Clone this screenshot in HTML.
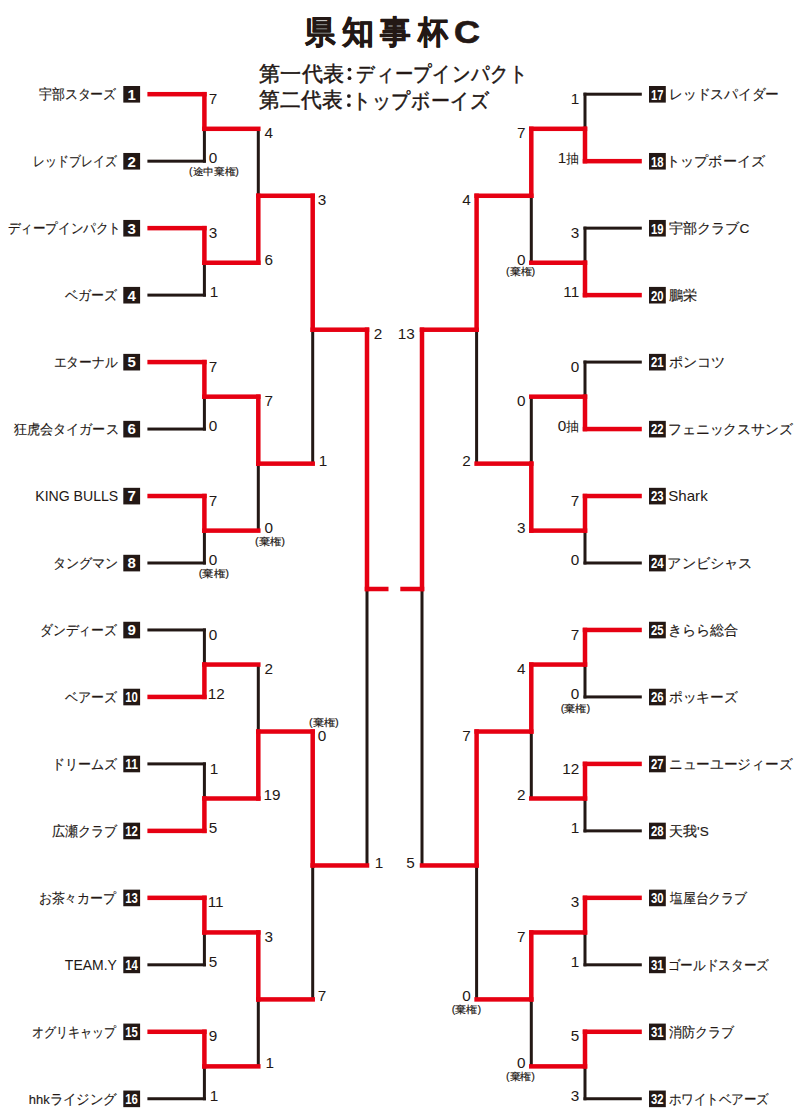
<!DOCTYPE html>
<html><head><meta charset="utf-8"><title>県知事杯C</title>
<style>
html,body{margin:0;padding:0;background:#fff;}
body{width:800px;height:1117px;overflow:hidden;position:relative;font-family:"Liberation Sans", sans-serif;}
svg{position:absolute;left:0;top:0;display:block;}
text{font-family:"Liberation Sans", sans-serif;fill:#231815;}
.nm{font-size:13.5px;stroke:#231815;stroke-width:0.15px;}
.nml{font-size:14.5px;}
.bn{font-size:15px;font-weight:bold;fill:#fff;}
.bn2{font-size:14.5px;font-weight:bold;fill:#fff;}
.sc{font-size:15.3px;}
.ch,.chs{font-size:13px;}
.kk{font-size:10px;stroke:#231815;stroke-width:0.15px;}
.tt{font-size:32px;font-weight:bold;stroke:#231815;stroke-width:0.7px;stroke-linejoin:round;}
.st{font-size:21px;stroke:#231815;stroke-width:0.45px;}
</style></head><body>
<svg width="800" height="1117" viewBox="0 0 800 1117">
<rect x="147.40" y="159.67" width="58.50" height="3.00" fill="#231815"/>
<rect x="147.40" y="293.61" width="58.50" height="3.00" fill="#231815"/>
<rect x="147.40" y="427.55" width="58.50" height="3.00" fill="#231815"/>
<rect x="147.40" y="561.49" width="58.50" height="3.00" fill="#231815"/>
<rect x="147.40" y="628.46" width="58.50" height="3.00" fill="#231815"/>
<rect x="147.40" y="762.40" width="58.50" height="3.00" fill="#231815"/>
<rect x="147.40" y="963.31" width="58.50" height="3.00" fill="#231815"/>
<rect x="147.40" y="1097.25" width="58.50" height="3.00" fill="#231815"/>
<rect x="202.90" y="127.30" width="3.00" height="35.37" fill="#231815"/>
<rect x="202.90" y="261.24" width="3.00" height="35.37" fill="#231815"/>
<rect x="202.90" y="395.18" width="3.00" height="35.37" fill="#231815"/>
<rect x="202.90" y="529.12" width="3.00" height="35.37" fill="#231815"/>
<rect x="202.90" y="628.46" width="3.00" height="37.60" fill="#231815"/>
<rect x="202.90" y="762.40" width="3.00" height="37.60" fill="#231815"/>
<rect x="202.90" y="930.94" width="3.00" height="35.37" fill="#231815"/>
<rect x="202.90" y="1064.88" width="3.00" height="35.37" fill="#231815"/>
<rect x="256.80" y="127.30" width="3.00" height="69.97" fill="#231815"/>
<rect x="256.80" y="462.15" width="3.00" height="69.97" fill="#231815"/>
<rect x="256.80" y="663.06" width="3.00" height="69.97" fill="#231815"/>
<rect x="256.80" y="997.91" width="3.00" height="69.97" fill="#231815"/>
<rect x="311.20" y="328.21" width="3.00" height="136.94" fill="#231815"/>
<rect x="311.20" y="863.97" width="3.00" height="136.94" fill="#231815"/>
<rect x="365.50" y="587.50" width="3.00" height="279.47" fill="#231815"/>
<rect x="583.50" y="92.70" width="58.30" height="3.00" fill="#231815"/>
<rect x="583.50" y="226.64" width="58.30" height="3.00" fill="#231815"/>
<rect x="583.50" y="360.58" width="58.30" height="3.00" fill="#231815"/>
<rect x="583.50" y="561.49" width="58.30" height="3.00" fill="#231815"/>
<rect x="583.50" y="695.43" width="58.30" height="3.00" fill="#231815"/>
<rect x="583.50" y="829.37" width="58.30" height="3.00" fill="#231815"/>
<rect x="583.50" y="963.31" width="58.30" height="3.00" fill="#231815"/>
<rect x="583.50" y="1097.25" width="58.30" height="3.00" fill="#231815"/>
<rect x="583.50" y="92.70" width="3.00" height="37.60" fill="#231815"/>
<rect x="583.50" y="226.64" width="3.00" height="37.60" fill="#231815"/>
<rect x="583.50" y="360.58" width="3.00" height="37.60" fill="#231815"/>
<rect x="583.50" y="529.12" width="3.00" height="35.37" fill="#231815"/>
<rect x="583.50" y="663.06" width="3.00" height="35.37" fill="#231815"/>
<rect x="583.50" y="797.00" width="3.00" height="35.37" fill="#231815"/>
<rect x="583.50" y="930.94" width="3.00" height="35.37" fill="#231815"/>
<rect x="583.50" y="1064.88" width="3.00" height="35.37" fill="#231815"/>
<rect x="529.80" y="194.27" width="3.00" height="69.97" fill="#231815"/>
<rect x="529.80" y="395.18" width="3.00" height="69.97" fill="#231815"/>
<rect x="529.80" y="730.03" width="3.00" height="69.97" fill="#231815"/>
<rect x="529.80" y="997.91" width="3.00" height="69.97" fill="#231815"/>
<rect x="475.10" y="328.21" width="3.00" height="136.94" fill="#231815"/>
<rect x="475.10" y="863.97" width="3.00" height="136.94" fill="#231815"/>
<rect x="420.50" y="587.50" width="3.00" height="279.47" fill="#231815"/>
<rect x="147.40" y="91.95" width="59.25" height="4.50" fill="#e60012"/>
<rect x="147.40" y="225.89" width="59.25" height="4.50" fill="#e60012"/>
<rect x="147.40" y="359.83" width="59.25" height="4.50" fill="#e60012"/>
<rect x="147.40" y="493.77" width="59.25" height="4.50" fill="#e60012"/>
<rect x="147.40" y="694.68" width="59.25" height="4.50" fill="#e60012"/>
<rect x="147.40" y="828.62" width="59.25" height="4.50" fill="#e60012"/>
<rect x="147.40" y="895.59" width="59.25" height="4.50" fill="#e60012"/>
<rect x="147.40" y="1029.53" width="59.25" height="4.50" fill="#e60012"/>
<rect x="202.15" y="91.95" width="4.50" height="39.10" fill="#e60012"/>
<rect x="202.15" y="225.89" width="4.50" height="39.10" fill="#e60012"/>
<rect x="202.15" y="359.83" width="4.50" height="39.10" fill="#e60012"/>
<rect x="202.15" y="493.77" width="4.50" height="39.10" fill="#e60012"/>
<rect x="202.15" y="662.31" width="4.50" height="36.87" fill="#e60012"/>
<rect x="202.15" y="796.25" width="4.50" height="36.87" fill="#e60012"/>
<rect x="202.15" y="895.59" width="4.50" height="39.10" fill="#e60012"/>
<rect x="202.15" y="1029.53" width="4.50" height="39.10" fill="#e60012"/>
<rect x="202.15" y="126.55" width="58.40" height="4.50" fill="#e60012"/>
<rect x="202.15" y="260.49" width="58.40" height="4.50" fill="#e60012"/>
<rect x="202.15" y="394.43" width="58.40" height="4.50" fill="#e60012"/>
<rect x="202.15" y="528.37" width="58.40" height="4.50" fill="#e60012"/>
<rect x="202.15" y="662.31" width="58.40" height="4.50" fill="#e60012"/>
<rect x="202.15" y="796.25" width="58.40" height="4.50" fill="#e60012"/>
<rect x="202.15" y="930.19" width="58.40" height="4.50" fill="#e60012"/>
<rect x="202.15" y="1064.13" width="58.40" height="4.50" fill="#e60012"/>
<rect x="256.05" y="193.52" width="4.50" height="71.47" fill="#e60012"/>
<rect x="256.05" y="394.43" width="4.50" height="71.47" fill="#e60012"/>
<rect x="256.05" y="729.28" width="4.50" height="71.47" fill="#e60012"/>
<rect x="256.05" y="930.19" width="4.50" height="71.47" fill="#e60012"/>
<rect x="256.05" y="193.52" width="58.90" height="4.50" fill="#e60012"/>
<rect x="256.05" y="461.40" width="58.90" height="4.50" fill="#e60012"/>
<rect x="256.05" y="729.28" width="58.90" height="4.50" fill="#e60012"/>
<rect x="256.05" y="997.16" width="58.90" height="4.50" fill="#e60012"/>
<rect x="310.45" y="193.52" width="4.50" height="138.44" fill="#e60012"/>
<rect x="310.45" y="729.28" width="4.50" height="138.44" fill="#e60012"/>
<rect x="310.45" y="327.46" width="58.80" height="4.50" fill="#e60012"/>
<rect x="310.45" y="863.22" width="58.80" height="4.50" fill="#e60012"/>
<rect x="364.75" y="327.46" width="4.50" height="263.79" fill="#e60012"/>
<rect x="582.75" y="158.92" width="59.05" height="4.50" fill="#e60012"/>
<rect x="582.75" y="292.86" width="59.05" height="4.50" fill="#e60012"/>
<rect x="582.75" y="426.80" width="59.05" height="4.50" fill="#e60012"/>
<rect x="582.75" y="493.77" width="59.05" height="4.50" fill="#e60012"/>
<rect x="582.75" y="627.71" width="59.05" height="4.50" fill="#e60012"/>
<rect x="582.75" y="761.65" width="59.05" height="4.50" fill="#e60012"/>
<rect x="582.75" y="895.59" width="59.05" height="4.50" fill="#e60012"/>
<rect x="582.75" y="1029.53" width="59.05" height="4.50" fill="#e60012"/>
<rect x="582.75" y="126.55" width="4.50" height="36.87" fill="#e60012"/>
<rect x="582.75" y="260.49" width="4.50" height="36.87" fill="#e60012"/>
<rect x="582.75" y="394.43" width="4.50" height="36.87" fill="#e60012"/>
<rect x="582.75" y="493.77" width="4.50" height="39.10" fill="#e60012"/>
<rect x="582.75" y="627.71" width="4.50" height="39.10" fill="#e60012"/>
<rect x="582.75" y="761.65" width="4.50" height="39.10" fill="#e60012"/>
<rect x="582.75" y="895.59" width="4.50" height="39.10" fill="#e60012"/>
<rect x="582.75" y="1029.53" width="4.50" height="39.10" fill="#e60012"/>
<rect x="529.05" y="126.55" width="58.20" height="4.50" fill="#e60012"/>
<rect x="529.05" y="260.49" width="58.20" height="4.50" fill="#e60012"/>
<rect x="529.05" y="394.43" width="58.20" height="4.50" fill="#e60012"/>
<rect x="529.05" y="528.37" width="58.20" height="4.50" fill="#e60012"/>
<rect x="529.05" y="662.31" width="58.20" height="4.50" fill="#e60012"/>
<rect x="529.05" y="796.25" width="58.20" height="4.50" fill="#e60012"/>
<rect x="529.05" y="930.19" width="58.20" height="4.50" fill="#e60012"/>
<rect x="529.05" y="1064.13" width="58.20" height="4.50" fill="#e60012"/>
<rect x="529.05" y="126.55" width="4.50" height="71.47" fill="#e60012"/>
<rect x="529.05" y="461.40" width="4.50" height="71.47" fill="#e60012"/>
<rect x="529.05" y="662.31" width="4.50" height="71.47" fill="#e60012"/>
<rect x="529.05" y="930.19" width="4.50" height="71.47" fill="#e60012"/>
<rect x="474.35" y="193.52" width="59.20" height="4.50" fill="#e60012"/>
<rect x="474.35" y="461.40" width="59.20" height="4.50" fill="#e60012"/>
<rect x="474.35" y="729.28" width="59.20" height="4.50" fill="#e60012"/>
<rect x="474.35" y="997.16" width="59.20" height="4.50" fill="#e60012"/>
<rect x="474.35" y="193.52" width="4.50" height="138.44" fill="#e60012"/>
<rect x="474.35" y="729.28" width="4.50" height="138.44" fill="#e60012"/>
<rect x="419.75" y="327.46" width="59.10" height="4.50" fill="#e60012"/>
<rect x="419.75" y="863.22" width="59.10" height="4.50" fill="#e60012"/>
<rect x="419.75" y="327.46" width="4.50" height="263.79" fill="#e60012"/>
<rect x="364.75" y="586.75" width="23.75" height="4.50" fill="#e60012"/>
<rect x="400.30" y="586.75" width="23.95" height="4.50" fill="#e60012"/>
<rect x="123.3" y="86.00" width="16.8" height="16.6" fill="#231815"/>
<text x="131.70" y="99.60" class="bn" text-anchor="middle">1</text>
<text x="38.73" y="99.20" class="nm" textLength="77.64" lengthAdjust="spacingAndGlyphs">宇部スターズ</text>
<rect x="649.0" y="86.00" width="16.8" height="16.6" fill="#231815"/>
<text x="651.00" y="99.60" class="bn2" textLength="12.6" lengthAdjust="spacingAndGlyphs">17</text>
<text x="669.00" y="99.20" class="nm" textLength="110.00" lengthAdjust="spacingAndGlyphs">レッドスパイダー</text>
<rect x="123.3" y="152.97" width="16.8" height="16.6" fill="#231815"/>
<text x="131.70" y="166.57" class="bn" text-anchor="middle">2</text>
<text x="33.26" y="166.17" class="nm" textLength="83.21" lengthAdjust="spacingAndGlyphs">レッドブレイズ</text>
<rect x="649.0" y="152.97" width="16.8" height="16.6" fill="#231815"/>
<text x="651.00" y="166.57" class="bn2" textLength="12.6" lengthAdjust="spacingAndGlyphs">18</text>
<text x="666.00" y="166.17" class="nm" textLength="99.00" lengthAdjust="spacingAndGlyphs">トップボーイズ</text>
<rect x="123.3" y="219.94" width="16.8" height="16.6" fill="#231815"/>
<text x="131.70" y="233.54" class="bn" text-anchor="middle">3</text>
<text x="7.60" y="233.14" class="nm" textLength="113.30" lengthAdjust="spacingAndGlyphs">ディープインパクト</text>
<rect x="649.0" y="219.94" width="16.8" height="16.6" fill="#231815"/>
<text x="651.00" y="233.54" class="bn2" textLength="12.6" lengthAdjust="spacingAndGlyphs">19</text>
<text x="668.55" y="233.14" class="nm" textLength="80.70" lengthAdjust="spacingAndGlyphs">宇部クラブC</text>
<rect x="123.3" y="286.91" width="16.8" height="16.6" fill="#231815"/>
<text x="131.70" y="300.51" class="bn" text-anchor="middle">4</text>
<text x="65.40" y="300.11" class="nm" textLength="51.90" lengthAdjust="spacingAndGlyphs">ベガーズ</text>
<rect x="649.0" y="286.91" width="16.8" height="16.6" fill="#231815"/>
<text x="651.00" y="300.51" class="bn2" textLength="12.6" lengthAdjust="spacingAndGlyphs">20</text>
<text x="669.05" y="300.11" class="nm" textLength="28.15" lengthAdjust="spacingAndGlyphs">鵬栄</text>
<rect x="123.3" y="353.88" width="16.8" height="16.6" fill="#231815"/>
<text x="131.70" y="367.48" class="bn" text-anchor="middle">5</text>
<text x="53.53" y="367.08" class="nm" textLength="63.81" lengthAdjust="spacingAndGlyphs">エターナル</text>
<rect x="649.0" y="353.88" width="16.8" height="16.6" fill="#231815"/>
<text x="651.00" y="367.48" class="bn2" textLength="12.6" lengthAdjust="spacingAndGlyphs">21</text>
<text x="668.75" y="367.08" class="nm" textLength="56.35" lengthAdjust="spacingAndGlyphs">ポンコツ</text>
<rect x="123.3" y="420.85" width="16.8" height="16.6" fill="#231815"/>
<text x="131.70" y="434.45" class="bn" text-anchor="middle">6</text>
<text x="13.72" y="434.05" class="nm" textLength="104.92" lengthAdjust="spacingAndGlyphs">狂虎会タイガース</text>
<rect x="649.0" y="420.85" width="16.8" height="16.6" fill="#231815"/>
<text x="651.00" y="434.45" class="bn2" textLength="12.6" lengthAdjust="spacingAndGlyphs">22</text>
<text x="668.05" y="434.05" class="nm" textLength="124.65" lengthAdjust="spacingAndGlyphs">フェニックスサンズ</text>
<rect x="123.3" y="487.82" width="16.8" height="16.6" fill="#231815"/>
<text x="131.70" y="501.42" class="bn" text-anchor="middle">7</text>
<text x="35.25" y="501.02" class="nml" textLength="83.00" lengthAdjust="spacingAndGlyphs">KING BULLS</text>
<rect x="649.0" y="487.82" width="16.8" height="16.6" fill="#231815"/>
<text x="651.00" y="501.42" class="bn2" textLength="12.6" lengthAdjust="spacingAndGlyphs">23</text>
<text x="668.30" y="501.02" class="nml" textLength="39.40" lengthAdjust="spacingAndGlyphs">Shark</text>
<rect x="123.3" y="554.79" width="16.8" height="16.6" fill="#231815"/>
<text x="131.70" y="568.39" class="bn" text-anchor="middle">8</text>
<text x="52.70" y="567.99" class="nm" textLength="65.30" lengthAdjust="spacingAndGlyphs">タングマン</text>
<rect x="649.0" y="554.79" width="16.8" height="16.6" fill="#231815"/>
<text x="651.00" y="568.39" class="bn2" textLength="12.6" lengthAdjust="spacingAndGlyphs">24</text>
<text x="667.40" y="567.99" class="nm" textLength="85.10" lengthAdjust="spacingAndGlyphs">アンビシャス</text>
<rect x="123.3" y="621.76" width="16.8" height="16.6" fill="#231815"/>
<text x="131.70" y="635.36" class="bn" text-anchor="middle">9</text>
<text x="39.75" y="634.96" class="nm" textLength="77.25" lengthAdjust="spacingAndGlyphs">ダンディーズ</text>
<rect x="649.0" y="621.76" width="16.8" height="16.6" fill="#231815"/>
<text x="651.00" y="635.36" class="bn2" textLength="12.6" lengthAdjust="spacingAndGlyphs">25</text>
<text x="668.00" y="634.96" class="nm" textLength="70.45" lengthAdjust="spacingAndGlyphs">きらら総合</text>
<rect x="123.3" y="688.73" width="16.8" height="16.6" fill="#231815"/>
<text x="125.30" y="702.33" class="bn2" textLength="12.6" lengthAdjust="spacingAndGlyphs">10</text>
<text x="65.25" y="701.93" class="nm" textLength="51.85" lengthAdjust="spacingAndGlyphs">ベアーズ</text>
<rect x="649.0" y="688.73" width="16.8" height="16.6" fill="#231815"/>
<text x="651.00" y="702.33" class="bn2" textLength="12.6" lengthAdjust="spacingAndGlyphs">26</text>
<text x="669.00" y="701.93" class="nm" textLength="68.65" lengthAdjust="spacingAndGlyphs">ポッキーズ</text>
<rect x="123.3" y="755.70" width="16.8" height="16.6" fill="#231815"/>
<text x="125.30" y="769.30" class="bn2" textLength="12.6" lengthAdjust="spacingAndGlyphs">11</text>
<text x="52.00" y="768.90" class="nm" textLength="65.00" lengthAdjust="spacingAndGlyphs">ドリームズ</text>
<rect x="649.0" y="755.70" width="16.8" height="16.6" fill="#231815"/>
<text x="651.00" y="769.30" class="bn2" textLength="12.6" lengthAdjust="spacingAndGlyphs">27</text>
<text x="669.00" y="768.90" class="nm" textLength="123.20" lengthAdjust="spacingAndGlyphs">ニューユージィーズ</text>
<rect x="123.3" y="822.67" width="16.8" height="16.6" fill="#231815"/>
<text x="125.30" y="836.27" class="bn2" textLength="12.6" lengthAdjust="spacingAndGlyphs">12</text>
<text x="51.55" y="835.87" class="nm" textLength="65.45" lengthAdjust="spacingAndGlyphs">広瀬クラブ</text>
<rect x="649.0" y="822.67" width="16.8" height="16.6" fill="#231815"/>
<text x="651.00" y="836.27" class="bn2" textLength="12.6" lengthAdjust="spacingAndGlyphs">28</text>
<text x="669.00" y="835.87" class="nm" textLength="39.75" lengthAdjust="spacingAndGlyphs">天我'S</text>
<rect x="123.3" y="889.64" width="16.8" height="16.6" fill="#231815"/>
<text x="125.30" y="903.24" class="bn2" textLength="12.6" lengthAdjust="spacingAndGlyphs">13</text>
<text x="38.60" y="902.84" class="nm" textLength="77.70" lengthAdjust="spacingAndGlyphs">お茶々カープ</text>
<rect x="649.0" y="889.64" width="16.8" height="16.6" fill="#231815"/>
<text x="651.00" y="903.24" class="bn2" textLength="12.6" lengthAdjust="spacingAndGlyphs">30</text>
<text x="669.70" y="902.84" class="nm" textLength="77.60" lengthAdjust="spacingAndGlyphs">塩屋台クラブ</text>
<rect x="123.3" y="956.61" width="16.8" height="16.6" fill="#231815"/>
<text x="125.30" y="970.21" class="bn2" textLength="12.6" lengthAdjust="spacingAndGlyphs">14</text>
<text x="64.85" y="969.81" class="nml" textLength="52.05" lengthAdjust="spacingAndGlyphs">TEAM.Y</text>
<rect x="649.0" y="956.61" width="16.8" height="16.6" fill="#231815"/>
<text x="651.00" y="970.21" class="bn2" textLength="12.6" lengthAdjust="spacingAndGlyphs">31</text>
<text x="667.70" y="969.81" class="nm" textLength="101.20" lengthAdjust="spacingAndGlyphs">ゴールドスターズ</text>
<rect x="123.3" y="1023.58" width="16.8" height="16.6" fill="#231815"/>
<text x="125.30" y="1037.18" class="bn2" textLength="12.6" lengthAdjust="spacingAndGlyphs">15</text>
<text x="32.40" y="1036.78" class="nm" textLength="83.90" lengthAdjust="spacingAndGlyphs">オグリキャップ</text>
<rect x="649.0" y="1023.58" width="16.8" height="16.6" fill="#231815"/>
<text x="651.00" y="1037.18" class="bn2" textLength="12.6" lengthAdjust="spacingAndGlyphs">31</text>
<text x="668.90" y="1036.78" class="nm" textLength="65.05" lengthAdjust="spacingAndGlyphs">消防クラブ</text>
<rect x="123.3" y="1090.55" width="16.8" height="16.6" fill="#231815"/>
<text x="125.30" y="1104.15" class="bn2" textLength="12.6" lengthAdjust="spacingAndGlyphs">16</text>
<text x="28.75" y="1103.75" class="nm" textLength="88.05" lengthAdjust="spacingAndGlyphs">hhkライジング</text>
<rect x="649.0" y="1090.55" width="16.8" height="16.6" fill="#231815"/>
<text x="651.00" y="1104.15" class="bn2" textLength="12.6" lengthAdjust="spacingAndGlyphs">32</text>
<text x="668.70" y="1103.75" class="nm" textLength="100.10" lengthAdjust="spacingAndGlyphs">ホワイトベアーズ</text>
<text x="208.70" y="103.80" class="sc">7</text>
<text x="208.70" y="163.07" class="sc">0</text>
<text x="189.00" y="174.57" class="kk" textLength="49.85" lengthAdjust="spacingAndGlyphs">(途中棄権)</text>
<text x="208.70" y="237.74" class="sc">3</text>
<text x="209.70" y="297.01" class="sc">1</text>
<text x="208.70" y="371.68" class="sc">7</text>
<text x="208.70" y="430.95" class="sc">0</text>
<text x="208.70" y="505.62" class="sc">7</text>
<text x="208.70" y="564.89" class="sc">0</text>
<text x="198.70" y="577.23" class="kk" textLength="30.30" lengthAdjust="spacingAndGlyphs">(棄権)</text>
<text x="208.70" y="639.56" class="sc">0</text>
<text x="207.70" y="698.83" class="sc">12</text>
<text x="209.70" y="773.50" class="sc">1</text>
<text x="208.70" y="832.77" class="sc">5</text>
<text x="207.70" y="907.44" class="sc">11</text>
<text x="208.70" y="966.71" class="sc">5</text>
<text x="208.70" y="1041.38" class="sc">9</text>
<text x="209.70" y="1100.65" class="sc">1</text>
<text x="264.60" y="138.40" class="sc">4</text>
<text x="264.60" y="264.64" class="sc">6</text>
<text x="264.60" y="406.28" class="sc">7</text>
<text x="264.60" y="532.52" class="sc">0</text>
<text x="255.00" y="544.92" class="kk" textLength="30.00" lengthAdjust="spacingAndGlyphs">(棄権)</text>
<text x="264.60" y="674.16" class="sc">2</text>
<text x="263.60" y="800.40" class="sc">19</text>
<text x="264.60" y="942.04" class="sc">3</text>
<text x="265.60" y="1068.28" class="sc">1</text>
<text x="317.80" y="205.37" class="sc">3</text>
<text x="318.80" y="465.55" class="sc">1</text>
<text x="317.80" y="741.13" class="sc">0</text>
<text x="309.05" y="725.90" class="kk" textLength="29.75" lengthAdjust="spacingAndGlyphs">(棄権)</text>
<text x="317.80" y="1001.31" class="sc">7</text>
<text x="373.80" y="339.31" class="sc">2</text>
<text x="374.80" y="868.37" class="sc">1</text>
<text x="579.20" y="103.80" class="sc" text-anchor="end">1</text>
<text x="579.20" y="163.07" class="sc" text-anchor="end">1<tspan class="chs">抽</tspan></text>
<text x="579.20" y="237.74" class="sc" text-anchor="end">3</text>
<text x="579.20" y="297.01" class="sc" text-anchor="end">11</text>
<text x="579.20" y="371.68" class="sc" text-anchor="end">0</text>
<text x="579.20" y="430.95" class="sc" text-anchor="end">0<tspan class="chs">抽</tspan></text>
<text x="579.20" y="505.62" class="sc" text-anchor="end">7</text>
<text x="579.20" y="564.89" class="sc" text-anchor="end">0</text>
<text x="579.20" y="639.56" class="sc" text-anchor="end">7</text>
<text x="579.20" y="698.83" class="sc" text-anchor="end">0</text>
<text x="560.70" y="711.52" class="kk" textLength="29.60" lengthAdjust="spacingAndGlyphs">(棄権)</text>
<text x="579.20" y="773.50" class="sc" text-anchor="end">12</text>
<text x="579.20" y="832.77" class="sc" text-anchor="end">1</text>
<text x="579.20" y="907.44" class="sc" text-anchor="end">3</text>
<text x="579.20" y="966.71" class="sc" text-anchor="end">1</text>
<text x="579.20" y="1041.38" class="sc" text-anchor="end">5</text>
<text x="579.20" y="1100.65" class="sc" text-anchor="end">3</text>
<text x="525.50" y="138.40" class="sc" text-anchor="end">7</text>
<text x="525.50" y="264.64" class="sc" text-anchor="end">0</text>
<text x="506.00" y="274.50" class="kk" textLength="29.25" lengthAdjust="spacingAndGlyphs">(棄権)</text>
<text x="525.50" y="406.28" class="sc" text-anchor="end">0</text>
<text x="525.50" y="532.52" class="sc" text-anchor="end">3</text>
<text x="525.50" y="674.16" class="sc" text-anchor="end">4</text>
<text x="525.50" y="800.40" class="sc" text-anchor="end">2</text>
<text x="525.50" y="942.04" class="sc" text-anchor="end">7</text>
<text x="525.50" y="1068.28" class="sc" text-anchor="end">0</text>
<text x="506.00" y="1079.90" class="kk" textLength="29.00" lengthAdjust="spacingAndGlyphs">(棄権)</text>
<text x="470.80" y="205.37" class="sc" text-anchor="end">4</text>
<text x="470.80" y="465.55" class="sc" text-anchor="end">2</text>
<text x="470.80" y="741.13" class="sc" text-anchor="end">7</text>
<text x="470.80" y="1001.31" class="sc" text-anchor="end">0</text>
<text x="451.75" y="1012.75" class="kk" textLength="29.50" lengthAdjust="spacingAndGlyphs">(棄権)</text>
<text x="414.70" y="339.31" class="sc" text-anchor="end">13</text>
<text x="414.70" y="868.37" class="sc" text-anchor="end">5</text>
<text x="305.00" y="42.50" class="tt" textLength="30.43" lengthAdjust="spacingAndGlyphs">県</text>
<text x="342.25" y="42.90" class="tt" textLength="32.17" lengthAdjust="spacingAndGlyphs">知</text>
<text x="380.00" y="42.81" class="tt" textLength="30.70" lengthAdjust="spacingAndGlyphs">事</text>
<text x="417.75" y="43.25" class="tt" textLength="29.80" lengthAdjust="spacingAndGlyphs">杯</text>
<text x="454.00" y="42.95" class="tt" textLength="26.00" lengthAdjust="spacingAndGlyphs">C</text>
<text x="259.40" y="80.93" class="st" textLength="84.35" lengthAdjust="spacingAndGlyphs">第一代表</text>
<text x="356.25" y="81.00" class="st" textLength="172.50" lengthAdjust="spacingAndGlyphs">ディープインパクト</text>
<text x="259.40" y="107.20" class="st" textLength="82.85" lengthAdjust="spacingAndGlyphs">第二代表</text>
<text x="351.68" y="107.60" class="st" textLength="138.32" lengthAdjust="spacingAndGlyphs">トップボーイズ</text>
<circle cx="349.5" cy="69.6" r="1.9" fill="#231815"/>
<circle cx="349.5" cy="78.2" r="1.9" fill="#231815"/>
<circle cx="348.9" cy="96.1" r="1.9" fill="#231815"/>
<circle cx="348.9" cy="105.1" r="1.9" fill="#231815"/>
</svg>
</body></html>
